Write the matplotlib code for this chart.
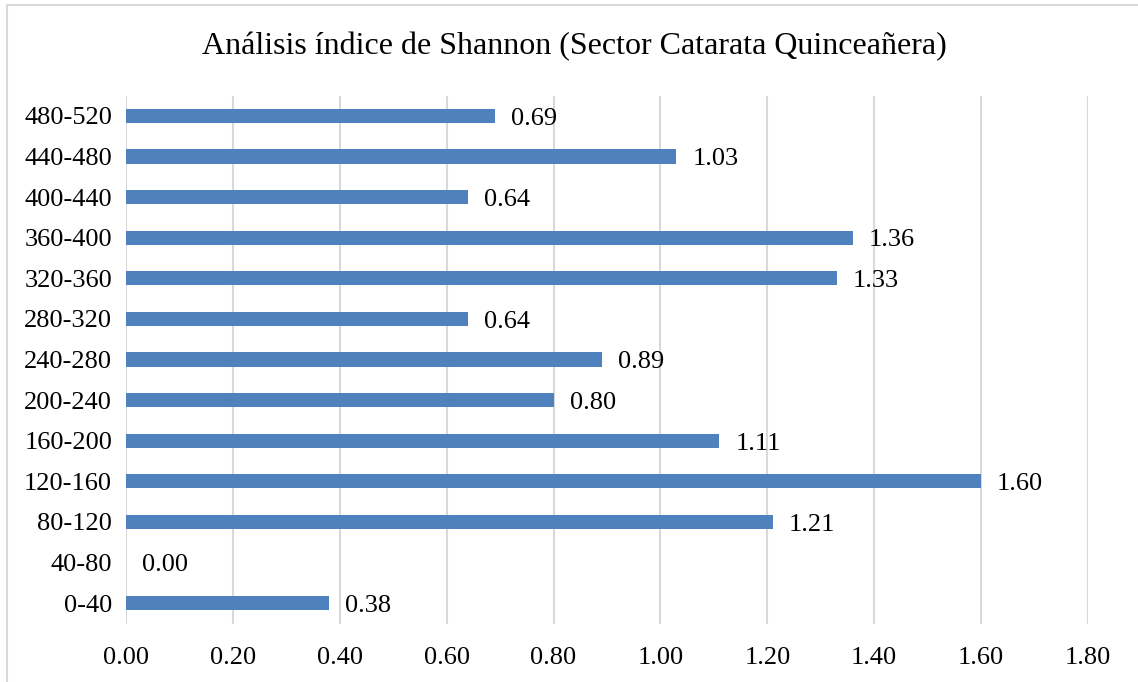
import matplotlib.pyplot as plt
from matplotlib.lines import Line2D

categories = ["0-40", "40-80", "80-120", "120-160", "160-200", "200-240",
              "240-280", "280-320", "320-360", "360-400", "400-440",
              "440-480", "480-520"]
shannon = [0.38, 0.00, 1.21, 1.60, 1.11, 0.80, 0.89, 0.64, 1.33, 1.36,
           0.64, 1.03, 0.69]
xticks = [0.0, 0.2, 0.4, 0.6, 0.8, 1.0, 1.2, 1.4, 1.6, 1.8]

plt.rcParams["font.family"] = ["Liberation Serif", "DejaVu Serif"]

W, H = 1138, 682
fig = plt.figure(figsize=(W / 100, H / 100), dpi=100)
ax = fig.add_axes([126 / W, 1 - 623.5 / H, (1088 - 126) / W, (623.5 - 95.5) / H])

y = range(len(categories))
ax.barh(y, shannon, height=0.35, color="#4F81BD", zorder=3)
for yi, v in zip(y, shannon):
    ax.annotate(f"{v:.2f}", (v, yi), xytext=(11.5, -2), textcoords="offset points",
                va="center", ha="left", fontsize=19, color="black")

ax.set_xlim(0, 1.8)
ax.set_ylim(-0.5, len(categories) - 0.5)
ax.set_xticks(xticks)
ax.set_xticklabels([f"{t:.2f}" for t in xticks], fontsize=19)
ax.set_yticks(list(y))
ax.set_yticklabels(categories, fontsize=19)
ax.tick_params(axis="both", length=0)
ax.tick_params(axis="x", pad=17)
ax.tick_params(axis="y", pad=10)
ax.grid(axis="x", color="#D9D9D9", linewidth=1.5, zorder=0)
for s in ax.spines.values():
    s.set_visible(False)

fig.text(0.5 * (203 + 946) / W, 1 - 47 / H,
         "Análisis índice de Shannon (Sector Catarata Quinceañera)",
         ha="center", va="center", fontsize=23)

# chart-area border (only top and left visible in the crop)
fig.add_artist(Line2D([7 / W, 1.0], [1 - 5 / H, 1 - 5 / H],
                      transform=fig.transFigure, color="#D9D9D9", linewidth=1.5))
fig.add_artist(Line2D([7 / W, 7 / W], [0.0, 1 - 5 / H],
                      transform=fig.transFigure, color="#D9D9D9", linewidth=1.5))

fig.savefig("out.png", dpi=100)
